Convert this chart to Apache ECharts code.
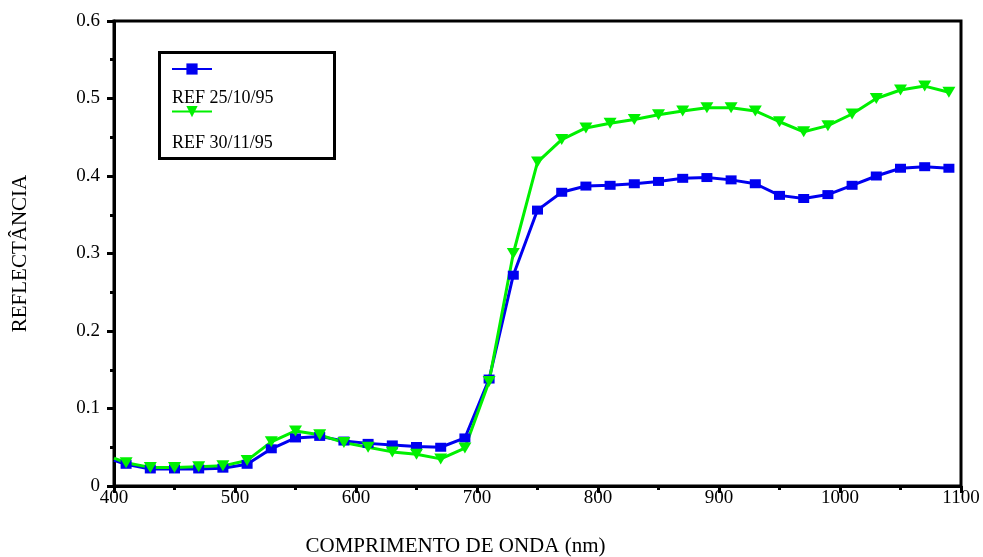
<!DOCTYPE html>
<html lang="pt">
<head>
    <meta charset="UTF-8">
    <title>Reflectância</title>
    <script type="text/javascript" src="https://cdn.jsdelivr.net/npm/echarts@6/dist/echarts.min.js"></script>
</head>
<body style="margin:0">
    <div id="main" style="width: 983px; height: 557px"></div>
    <script type="text/javascript">
        // comprimento de onda (nm) e reflectância
        var wavelengths = [400, 410, 430, 450, 470, 490, 510, 530, 550, 570, 590, 610, 630, 650, 670, 690, 710,
            730, 750, 770, 790, 810, 830, 850, 870, 890, 910, 930, 950, 970, 990, 1010, 1030, 1050, 1070, 1090];
        var ref251095 = [0.033, 0.028, 0.022, 0.022, 0.022, 0.023, 0.028, 0.048, 0.062, 0.064, 0.058, 0.055, 0.053, 0.051, 0.050, 0.062, 0.138,
            0.272, 0.356, 0.379, 0.387, 0.388, 0.390, 0.393, 0.397, 0.398, 0.395, 0.390, 0.375, 0.371, 0.376, 0.388, 0.400, 0.410, 0.412, 0.410];
        var ref301195 = [0.036, 0.030, 0.024, 0.024, 0.025, 0.026, 0.033, 0.057, 0.071, 0.066, 0.056, 0.050, 0.044, 0.041, 0.035, 0.049, 0.135,
            0.300, 0.418, 0.447, 0.462, 0.468, 0.473, 0.479, 0.484, 0.488, 0.488, 0.484, 0.470, 0.457, 0.465, 0.480, 0.500, 0.511, 0.516, 0.508];
        var seriesNames = ['REF 25/10/95', 'REF 30/11/95'];
        var xTitle = 'COMPRIMENTO DE ONDA (nm)';
        var yTitle = 'REFLECTÂNCIA';

        function pairs(ys) {
            return wavelengths.map(function (w, i) {
                // first point (400 nm) has no marker in the original
                return i === 0 ? { value: [w, ys[i]], symbol: 'none' } : [w, ys[i]];
            });
        }

        var font = 'Liberation Serif';
        var blue = '#0000f0', green = '#00f000';
        var myChart = echarts.init(document.getElementById('main'));

        var axisCommon = {
            axisLine: { lineStyle: { color: '#000', width: 3 } },
            axisTick: { inside: false, length: 7, lineStyle: { color: '#000', width: 3 } },
            minorTick: { show: true, splitNumber: 2, length: 4, lineStyle: { color: '#000', width: 3 } },
            splitLine: { show: false },
            axisLabel: { color: '#000', fontFamily: font, fontSize: 19 },
            nameTextStyle: { color: '#000', fontFamily: font, fontSize: 21 }
        };

        var option = {
            animation: false,
            backgroundColor: '#fff',
            grid: {
                left: 114, right: 22, top: 21, bottom: 71, outerBoundsMode: 'none', containLabel: false,
                show: true, borderColor: '#000', borderWidth: 3
            },
            xAxis: Object.assign({}, axisCommon, {
                type: 'value', min: 400, max: 1100, interval: 100,
                name: xTitle, nameLocation: 'middle', nameGap: 50,
                nameTextStyle: Object.assign({}, axisCommon.nameTextStyle, { padding: [0, 164, 0, 0] }),
                axisLabel: Object.assign({}, axisCommon.axisLabel, {
                    margin: 3,
                    formatter: function (v) { return String(v); }
                })
            }),
            yAxis: Object.assign({}, axisCommon, {
                type: 'value', min: 0, max: 0.6, interval: 0.1,
                name: yTitle, nameLocation: 'middle', nameGap: 83,
                axisLabel: Object.assign({}, axisCommon.axisLabel, { margin: 14 })
            }),
            legend: {
                left: 166, top: 57, orient: 'vertical', itemGap: 30,
                itemWidth: 40, itemHeight: 14,
                data: seriesNames,
                formatter: function () { return ''; },
                selectedMode: false
            },
            graphic: [
                { type: 'rect', left: 157, top: 50, shape: { width: 175, height: 106 },
                  style: { fill: 'none', stroke: '#000', lineWidth: 3 } },
                { type: 'text', left: 172, top: 89, style: { text: seriesNames[0], fill: '#000', font: '18px "Liberation Serif"' } },
                { type: 'text', left: 172, top: 134, style: { text: seriesNames[1], fill: '#000', font: '18px "Liberation Serif"' } }
            ],
            series: [
                {
                    name: seriesNames[0], type: 'line', data: pairs(ref251095),
                    symbol: 'rect', symbolSize: [11, 9], showAllSymbol: true,
                    lineStyle: { color: blue, width: 3 },
                    itemStyle: { color: blue }
                },
                {
                    name: seriesNames[1], type: 'line', data: pairs(ref301195),
                    symbol: 'triangle', symbolRotate: 180, symbolSize: [13, 11], showAllSymbol: true,
                    lineStyle: { color: green, width: 3 },
                    itemStyle: { color: green }
                }
            ]
        };

        myChart.setOption(option);
    </script>
</body>
</html>
